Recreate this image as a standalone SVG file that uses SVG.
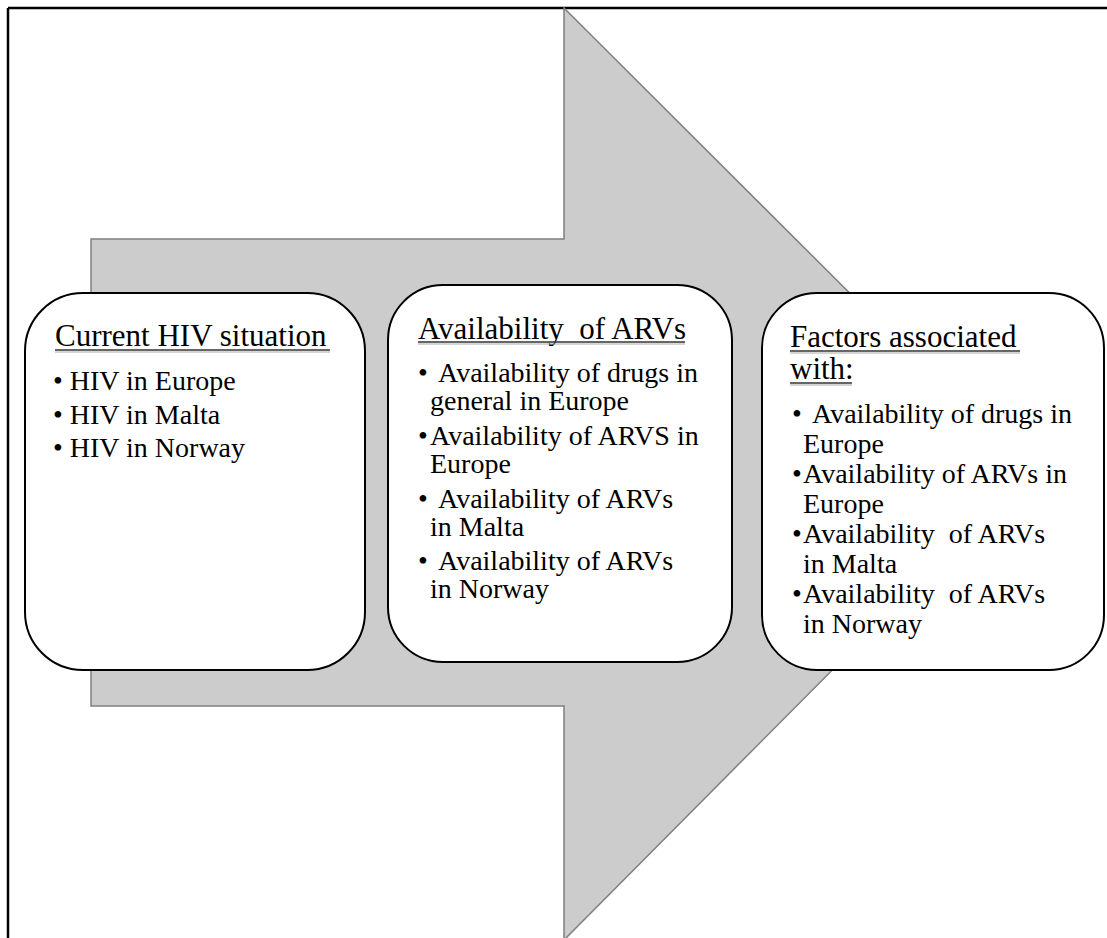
<svg xmlns="http://www.w3.org/2000/svg" width="1107" height="938" viewBox="0 0 1107 938">
<style>
.frame{stroke:#000;stroke-width:2.5;fill:none}
.arrow{fill:#cccccc;stroke:#7f7f7f;stroke-width:1.5}
.box{fill:#fff;stroke:#000;stroke-width:2}
.h{font-family:"Liberation Serif","Times New Roman",serif;font-size:31px;fill:#000}
.t{font-family:"Liberation Serif","Times New Roman",serif;font-size:28px;fill:#000}
.ul{stroke:#333;stroke-width:1.5}
.uls{stroke:#aaa;stroke-width:1}
</style>
<rect width="1107" height="938" fill="#fff"/>
<g id="frame">
<line class="frame" x1="8" y1="8" x2="1107" y2="8"/>
<line class="frame" x1="8" y1="8" x2="8" y2="938"/>
</g>
<g id="connectors">
<polygon id="arrow" class="arrow" points="91,239 564,239 564,8 1029,472 564,940 564,706 91,706"/>
</g>
<g id="node-current">
<rect class="box" x="25" y="293" width="340" height="377" rx="58" ry="58"/>
<text class="h" x="55" y="346">Current HIV situation</text>
<line class="ul" x1="55" y1="350" x2="330" y2="350"/>
<line class="uls" x1="55" y1="352" x2="330" y2="352"/>
<text class="t" x="53" y="390">• HIV in Europe</text>
<text class="t" x="53" y="424">• HIV in Malta</text>
<text class="t" x="53" y="457">• HIV in Norway</text>
</g>
<g id="node-availability">
<rect class="box" x="388" y="285" width="344" height="377" rx="55" ry="55"/>
<text class="h" x="418" y="339" xml:space="preserve">Availability  of ARVs</text>
<line class="ul" x1="418" y1="342" x2="685" y2="342"/>
<line class="uls" x1="418" y1="344" x2="685" y2="344"/>
<text class="t" x="418" y="382">•</text><text class="t" x="438" y="382">Availability of drugs in</text>
<text class="t" x="430" y="410">general in Europe</text>
<text class="t" x="418" y="445">•</text><text class="t" x="430" y="445">Availability of ARVS in</text>
<text class="t" x="430" y="473">Europe</text>
<text class="t" x="418" y="508">•</text><text class="t" x="438" y="508">Availability of ARVs</text>
<text class="t" x="430" y="536">in Malta</text>
<text class="t" x="418" y="570">•</text><text class="t" x="438" y="570">Availability of ARVs</text>
<text class="t" x="430" y="598">in Norway</text>
</g>
<g id="node-factors">
<rect class="box" x="762" y="293" width="342" height="377" rx="55" ry="55"/>
<text class="h" x="790" y="347">Factors associated</text>
<line class="ul" x1="790" y1="351" x2="1020" y2="351"/>
<line class="uls" x1="790" y1="353" x2="1020" y2="353"/>
<text class="h" x="790" y="379">with:</text>
<line class="ul" x1="790" y1="383" x2="852" y2="383"/>
<line class="uls" x1="790" y1="385" x2="852" y2="385"/>
<text class="t" x="792" y="423">•</text><text class="t" x="812" y="423">Availability of drugs in</text>
<text class="t" x="803" y="453">Europe</text>
<text class="t" x="792" y="483">•</text><text class="t" x="803" y="483">Availability of ARVs in</text>
<text class="t" x="803" y="513">Europe</text>
<text class="t" x="792" y="543">•</text><text class="t" x="803" y="543" xml:space="preserve">Availability  of ARVs</text>
<text class="t" x="803" y="573">in Malta</text>
<text class="t" x="792" y="603">•</text><text class="t" x="803" y="603" xml:space="preserve">Availability  of ARVs</text>
<text class="t" x="803" y="633">in Norway</text>
</g>
</svg>
